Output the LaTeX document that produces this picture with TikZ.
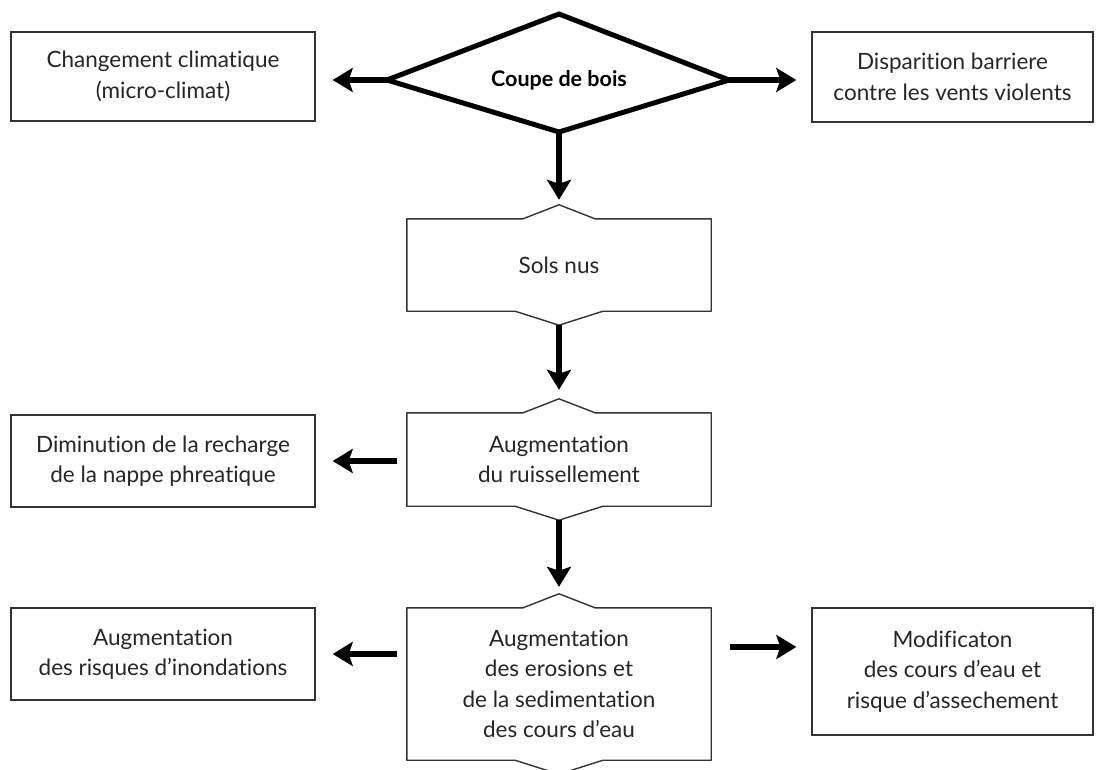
\documentclass[tikz,border=0pt]{standalone}
\usepackage{fontspec}
\setmainfont{Lato}[Ligatures=NoCommon]
\usetikzlibrary{calc}
\usetikzlibrary{arrows.meta}

\begin{document}
\begin{tikzpicture}[x=1pt,y=-1pt,
    txt/.style={font=\fontsize{22.5}{30.5}\selectfont, text=black!85},
    box/.style={txt, draw=black!80, line width=1.4pt, align=center, inner sep=0pt},
    midbox/.style={txt, align=center, inner sep=0pt, minimum width=304pt},
    flow/.style={line width=6pt, -{Stealth[length=20pt,width=24pt,inset=4pt]}},
    diam/.style={line width=5pt, line join=miter}]
  \useasboundingbox (0,0) rectangle (1105,770);

  % decision at the top
  \draw[diam] (559,14) coordinate (dtop) -- (729,80) coordinate (dright)
    -- (559,132) coordinate (dbot) -- (387,80) coordinate (dleft) -- cycle;
  \node[font=\fontsize{21.5}{30}\selectfont\bfseries] (coupe) at (559,80) {Coupe de bois};

  \node[box, minimum width=304pt, minimum height=89pt] (climat) at (163,76.5) {Changement climatique\\(micro-climat)};
  \node[box, minimum width=281pt, minimum height=90pt] (barriere) at (952.5,77) {Disparition barriere\\contre les vents violents};

  % central column
  \node[midbox, minimum height=92pt] (sols) at (559,265) {Sols nus};
  \node[midbox, minimum height=93pt] (ruis) at (559,459.5) {Augmentation\\du ruissellement};
  \node[midbox, minimum height=152pt] (eros) at (559,684) {Augmentation\\des erosions et\\de la sedimentation\\des cours d’eau};
  \foreach \n in {sols,ruis,eros} {
    \draw[draw=black!80, line width=1.4pt, line join=round] (\n.north west) -- ([xshift=-36pt]\n.north) -- ([yshift=14pt]\n.north)
      -- ([xshift=36pt]\n.north) -- (\n.north east) -- (\n.south east) -- ([xshift=44pt]\n.south)
      -- ([yshift=-14pt]\n.south) -- ([xshift=-44pt]\n.south) -- (\n.south west) -- cycle;
  }

  % side effects
  \node[box, minimum width=304pt, minimum height=92pt] (nappe) at (163,461) {Diminution de la recharge\\de la nappe phreatique};
  \node[box, minimum width=304pt, minimum height=92pt] (inond) at (163,654) {Augmentation\\des risques d’inondations};
  \node[box, minimum width=281pt, minimum height=127pt] (modif) at (952.5,671.5) {Modificaton\\des cours d’eau et\\risque d’assechement};

  % arrows
  \draw[flow, shorten >=17pt] (dleft) -- (dleft -| climat.east);
  \draw[flow, shorten >=15pt] (dright) -- (dright -| barriere.west);
  \draw[flow, shorten >=5pt] (dbot) -- ([yshift=14pt]sols.north);
  \draw[flow, shorten >=9pt] ([yshift=-14pt]sols.south) -- ([yshift=14pt]ruis.north);
  \draw[flow, shorten >=7pt] ([yshift=-14pt]ruis.south) -- ([yshift=14pt]eros.north);
  \draw[flow, shorten <=10pt, shorten >=17pt] (ruis.west |- nappe.east) -- (nappe.east);
  \draw[flow, shorten <=10pt, shorten >=17pt] (eros.west |- inond.east) -- (inond.east);
  \draw[flow, shorten <=19pt, shorten >=15pt] ([yshift=37pt]eros.east) -- ([yshift=37pt]eros.east -| modif.west);
\end{tikzpicture}
\end{document}
